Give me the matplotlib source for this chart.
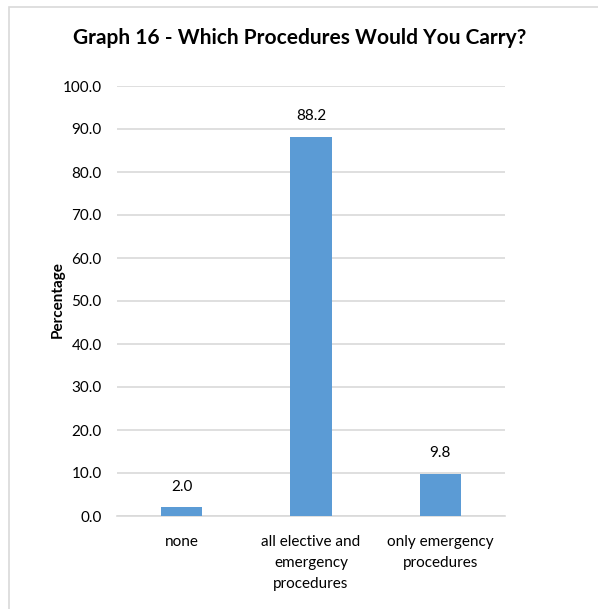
import matplotlib
matplotlib.use("Agg")
import matplotlib.pyplot as plt
from matplotlib.patches import Rectangle

plt.rcParams['font.family'] = ['Lato', 'DejaVu Sans']

categories = ["none", "all elective and\nemergency\nprocedures", "only emergency\nprocedures"]
values = [2.0, 88.2, 9.8]
yticks = [0, 10, 20, 30, 40, 50, 60, 70, 80, 90, 100]

W, H = 598, 609
fig = plt.figure(figsize=(W / 100, H / 100), dpi=100)
ax = fig.add_axes([117 / W, 1 - 516 / H, 388 / W, 430 / H])

bar_color = "#5B9BD5"
x = range(len(categories))
ax.bar(x, values, width=0.32, color=bar_color, zorder=3)
for xi, v in zip(x, values):
    ax.text(xi, v + 3.2, f"{v:.1f}", ha="center", va="bottom", fontsize=11, color="#000000")

ax.set_xlim(-0.5, len(categories) - 0.5)
ax.set_ylim(0, 100)
ax.set_yticks(yticks)
ax.set_yticklabels([f"{t:.1f}" for t in yticks], fontsize=11)
ax.set_xticks(list(x))
ax.set_xticklabels(categories, fontsize=11, linespacing=1.6)
ax.tick_params(axis="both", length=0)
ax.tick_params(axis="x", pad=14)
ax.tick_params(axis="y", pad=11)
ax.grid(axis="y", color="#D9D9D9", linewidth=1.2, zorder=0)
for s in ["top", "right", "left"]:
    ax.spines[s].set_visible(False)
ax.spines["bottom"].set_color("#D9D9D9")
ax.spines["bottom"].set_linewidth(1.2)

fig.text(58 / W, 1 - 300 / H, "Percentage", rotation=90, ha="center", va="center",
         fontsize=11, fontweight="bold")
fig.text(300 / W, 1 - 38 / H, "Graph 16 - Which Procedures Would You Carry?",
         ha="center", va="center", fontsize=15, fontweight="bold")

fig.patches.append(Rectangle((9 / W, -0.01), 1.0, 1 - 7 / H + 0.01, transform=fig.transFigure,
                             fill=False, edgecolor="#D9D9D9", linewidth=1.2))

fig.savefig("out.png", dpi=100)
